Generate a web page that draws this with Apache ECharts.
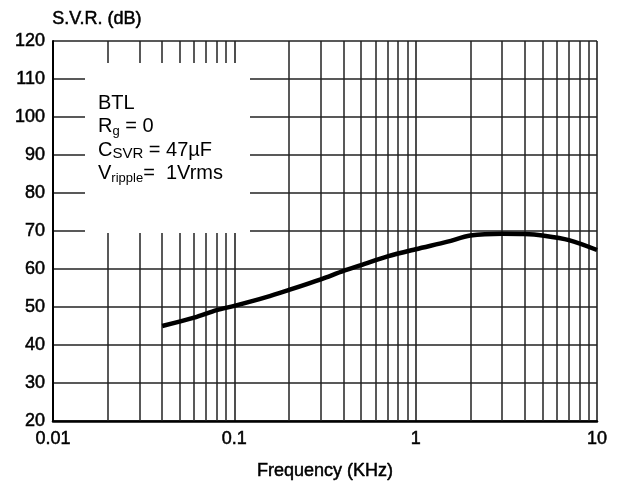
<!DOCTYPE html>
<html>
<head>
<meta charset="utf-8">
<script src="https://cdn.jsdelivr.net/npm/echarts@6/dist/echarts.min.js"></script>
<style>
html,body{margin:0;padding:0;background:#fff;}
#chart{width:622px;height:489px;}
</style>
</head>
<body>
<div id="chart"></div>
<script>
// ---- data ----
const freqKHz = [0.04, 0.06, 0.08, 0.1, 0.15, 0.2, 0.3, 0.4, 0.5, 0.7, 1, 1.5, 2, 3, 4, 5, 7, 10];
const svrDb   = [45, 47.2, 49.2, 50.3, 52.6, 54.5, 57.3, 59.5, 61, 63.3, 65.2, 67.2, 68.8, 69.3, 69.2, 68.8, 67.6, 65];
const xMajorTicks = [0.01, 0.1, 1, 10];
const xMinorGrid = [0.02,0.03,0.04,0.05,0.06,0.07,0.08,0.09,
                    0.2,0.3,0.4,0.5,0.6,0.7,0.8,0.9,
                    2,3,4,5,6,7,8,9];
const yTicks = [20,30,40,50,60,70,80,90,100,110,120];

const FONT = 'Liberation Sans, Arial, Helvetica, sans-serif';
const chart = echarts.init(document.getElementById('chart'));

const n = (t) => '{n|' + t + '}';
const s = (t) => '{s|' + t + '}';
const c = (t) => '{c|' + t + '}';
const heavy = { textBorderColor: '#000', textBorderWidth: 0.5 };

chart.setOption({
  animation: false,
  backgroundColor: '#fff',
  grid: { left: 53, right: 25, top: 41, bottom: 68, containLabel: false },
  xAxis: {
    type: 'log', logBase: 10, min: xMajorTicks[0], max: xMajorTicks[xMajorTicks.length-1],
    name: 'Frequency (KHz)', nameLocation: 'middle', nameGap: 41,
    nameTextStyle: Object.assign({ fontFamily: FONT, fontSize: 18, color: '#000' }, heavy),
    axisLine: { show: true, lineStyle: { color: '#000', width: 2.5 } },
    axisTick: { show: false },
    axisLabel: Object.assign({ fontFamily: FONT, fontSize: 18, color: '#000', margin: 9,
      formatter: v => String(v) }, heavy),
    splitLine: { show: true, lineStyle: { color: '#222', width: 1.6 } }
  },
  yAxis: {
    type: 'value', min: yTicks[0], max: yTicks[yTicks.length-1], interval: 10,
    axisLine: { show: true, lineStyle: { color: '#000', width: 2 } },
    axisTick: { show: false },
    axisLabel: Object.assign({ fontFamily: FONT, fontSize: 18, color: '#000', margin: 8 }, heavy),
    splitLine: { show: true, lineStyle: { color: '#222', width: 1.6 } }
  },
  graphic: [
    { type: 'rect', z: 100, shape: { x: 85, y: 63, width: 165, height: 170 }, style: { fill: '#fff' } },
    { type: 'text', z: 101, left: 52, top: 10, style: { text: 'S.V.R. (dB)', font: '18px ' + FONT, fill: '#000', stroke: '#000', lineWidth: 0.5 } },
    { type: 'text', z: 101, left: 98, top: 93, style: {
        text: [n('BTL'), n('R') + s('g') + n(' = 0'), n('C') + c('SVR') + n(' = 47µF'), n('V') + s('ripple') + n('=  1Vrms')].join('\n'),
        rich: {
          n: { fontFamily: FONT, fontSize: 20, color: '#222', lineHeight: 23.5, verticalAlign: 'middle' },
          s: { fontFamily: FONT, fontSize: 13, color: '#222', lineHeight: 11, verticalAlign: 'bottom' },
          c: { fontFamily: FONT, fontSize: 15, color: '#222', lineHeight: 19, verticalAlign: 'bottom' }
        }
    } }
  ],
  series: [
    {
      type: 'line', name: 'minor grid', data: [], silent: true,
      markLine: {
        silent: true, symbol: 'none', label: { show: false },
        lineStyle: { color: '#222', width: 1.5, type: 'solid' },
        data: xMinorGrid.map(v => ({ xAxis: v }))
      }
    },
    {
      type: 'line', name: 'SVR', z: 5,
      data: freqKHz.map((f, i) => [f, svrDb[i]]),
      symbol: 'none', smooth: 0.3,
      lineStyle: { color: '#000', width: 4.5 }
    }
  ]
});
</script>
</body>
</html>
